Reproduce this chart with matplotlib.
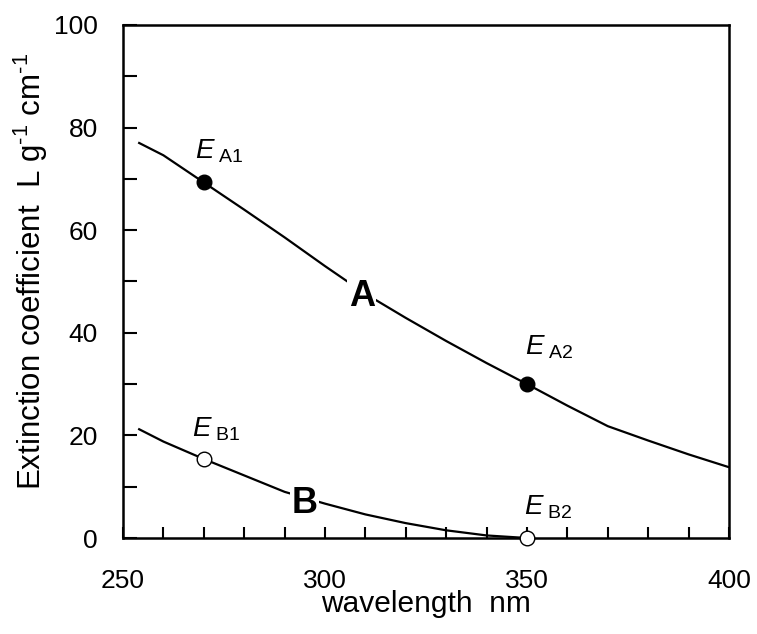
import numpy as np
import matplotlib
matplotlib.use("Agg")
import matplotlib.pyplot as plt
from matplotlib.ticker import MultipleLocator

plt.rcParams['font.family'] = ['Liberation Sans', 'DejaVu Sans']
plt.rcParams['mathtext.fontset'] = 'custom'
plt.rcParams['mathtext.rm'] = 'Liberation Sans'
plt.rcParams['mathtext.it'] = 'Liberation Sans:italic'
plt.rcParams['mathtext.bf'] = 'Liberation Sans:bold'

# ==========================================================
# DATA
# ==========================================================

wl_a = [254, 260, 270, 280, 290, 300, 310, 320, 330, 340, 350, 360, 370, 380, 390, 400]
ext_a = [77.0, 74.6, 69.3, 64.0, 58.6, 53.0, 47.6, 42.9, 38.4, 34.1, 30.0, 25.8, 21.8, 19.0, 16.3, 13.8]

wl_b = [254, 260, 270, 280, 290, 300, 310, 320, 330, 340, 350]
ext_b = [21.2, 18.8, 15.4, 12.2, 9.0, 6.7, 4.6, 2.9, 1.5, 0.5, 0.0]

# measurement points E_A1, E_A2 (filled) and E_B1, E_B2 (open)
pt_wl = [270, 350]
pt_a = [69.3, 30.0]
pt_b = [15.4, 0.0]

# ==========================================================
# PLOT
# ==========================================================

fig = plt.figure(figsize=(7.57, 6.34), dpi=100)
ax = fig.add_axes([0.1625, 0.1514, 0.8005, 0.8092])

ax.plot(wl_a, ext_a, color='black', linewidth=1.6, zorder=2)
ax.plot(wl_b, ext_b, color='black', linewidth=1.6, zorder=2)

ax.plot(pt_wl, pt_a, 'o', color='black', markersize=10.5, zorder=4, clip_on=False)
ax.plot(pt_wl, pt_b, 'o', markerfacecolor='white', markeredgecolor='black',
        markeredgewidth=1.0, markersize=10.5, zorder=4, clip_on=False)

# point labels
ax.text(267.8, 73.9, r'$E_{\ \mathrm{A1}}$', fontsize=20, va='baseline', ha='left')
ax.text(349.5, 35.7, r'$E_{\ \mathrm{A2}}$', fontsize=20, va='baseline', ha='left')
ax.text(267.0, 19.7, r'$E_{\ \mathrm{B1}}$', fontsize=20, va='baseline', ha='left')
ax.text(349.3, 4.5, r'$E_{\ \mathrm{B2}}$', fontsize=20, va='baseline', ha='left')

# curve labels
ax.text(309.1, 45.2, 'A', fontsize=26, fontweight='bold', ha='center', va='baseline',
        zorder=3, bbox=dict(facecolor='white', edgecolor='none', pad=1))
ax.text(295.0, 4.9, 'B', fontsize=26, fontweight='bold', ha='center', va='baseline',
        zorder=3, bbox=dict(facecolor='white', edgecolor='none', pad=1))

ax.set_xlim(250, 400)
ax.set_ylim(0, 100)

ax.xaxis.set_major_locator(MultipleLocator(50))
ax.xaxis.set_minor_locator(MultipleLocator(10))
ax.yaxis.set_major_locator(MultipleLocator(20))
ax.yaxis.set_minor_locator(MultipleLocator(10))

ax.tick_params(axis='x', which='both', direction='in', length=8, width=1.5,
               labelsize=19, pad=22)
ax.tick_params(axis='y', which='both', direction='in', length=10, width=1.5,
               labelsize=19, pad=18)

for side in ['left', 'bottom', 'top', 'right']:
    ax.spines[side].set_linewidth(1.8)

ax.set_xlabel('wavelength  nm', fontsize=21.5, labelpad=-2)
ax.set_ylabel(r'Extinction coefficient  L g$^{\text{-1}}$ cm$^{\text{-1}}$',
              fontsize=22.5, labelpad=3)
ax.yaxis.label.set_y(0.52)

fig.savefig('out.png', dpi=100)
